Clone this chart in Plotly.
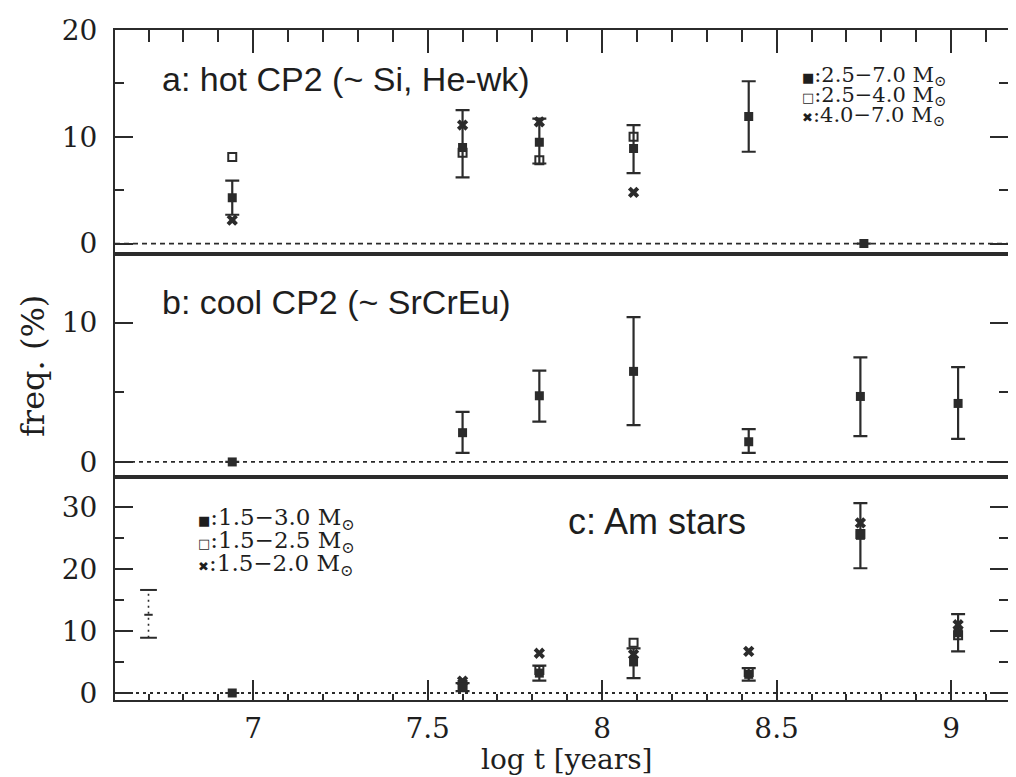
import numpy as np
import plotly.graph_objects as go
from plotly.subplots import make_subplots

# ---------------- data ----------------
# Panel a: hot CP2 (~ Si, He-wk)
age_a = [6.94, 7.60, 7.82, 8.09, 8.42, 8.75]
hot_all = [4.3, 9.0, 9.5, 8.9, 11.9, 0.0]          # 2.5-7.0 Msun
hot_all_hi = [5.9, 12.5, 11.7, 11.1, 15.2, 0.0]
hot_all_lo = [2.7, 6.2, 7.5, 6.6, 8.6, 0.0]
hot_low = [8.1, 8.5, 7.8, 10.0, None, None]         # 2.5-4.0 Msun
hot_high = [2.2, 11.1, 11.4, 4.8, None, None]       # 4.0-7.0 Msun

# Panel b: cool CP2 (~ SrCrEu)
age_b = [6.94, 7.60, 7.82, 8.09, 8.42, 8.74, 9.02]
cool = [0.0, 2.1, 4.75, 6.5, 1.45, 4.7, 4.2]
cool_hi = [0.0, 3.6, 6.55, 10.4, 2.35, 7.5, 6.8]
cool_lo = [0.0, 0.65, 2.9, 2.65, 0.65, 1.85, 1.65]

# Panel c: Am stars
age_c = [6.94, 7.60, 7.82, 8.09, 8.42, 8.74, 9.02]
am_all = [0.0, 0.9, 3.2, 5.0, 3.0, 25.4, 9.7]       # 1.5-3.0 Msun
am_all_hi = [0.0, 1.6, 4.4, 7.2, 4.0, 30.6, 12.7]
am_all_lo = [0.0, 0.3, 2.0, 2.4, 2.0, 20.1, 6.7]
am_mid = [None, 1.3, 3.7, 8.1, 3.4, 25.6, 9.3]      # 1.5-2.5 Msun
am_low = [None, 1.9, 6.4, 6.2, 6.7, 27.4, 11.0]     # 1.5-2.0 Msun
am_ref_age = [6.70]
am_ref = [12.6]
am_ref_hi = [16.6]
am_ref_lo = [8.9]

x_ticks = [7, 7.5, 8, 8.5, 9]
panel_titles = ["a: hot CP2 (~ Si, He-wk)", "b: cool CP2 (~ SrCrEu)", "c: Am stars"]
legend_a = ["2.5\u22127.0", "2.5\u22124.0", "4.0\u22127.0"]
legend_c = ["1.5\u22123.0", "1.5\u22122.5", "1.5\u22122.0"]

# ---------------- style ----------------
INK = "#2b2b2b"
TXT = "#1e1e1e"
SERIF = "DejaVu Serif"
SANS = "Liberation Sans"

OFF = 8                      # page body margin
W, H = 1000, 769
L, R, T, B = 107, 0, 22, 77
PW, PH = W - L - R, H - T - B


def px_x(px):               # page pixel -> paper x
    return (px - OFF - L) / PW


def px_y(py):               # page pixel -> paper y
    return (H - B - (py - OFF)) / PH


fig = make_subplots(rows=3, cols=1, shared_xaxes=False, vertical_spacing=0)


def err(vals, hi, lo):
    v = np.array(vals, float)
    return dict(type="data", symmetric=False,
                array=np.array(hi, float) - v, arrayminus=v - np.array(lo, float),
                width=7, thickness=2.2, color=INK)


sq = dict(symbol="square", size=9, color=INK)
sq_open = dict(symbol="square-open", size=8, color=INK, line=dict(width=2, color=INK))
xm = dict(symbol="x", size=10, color=INK, line=dict(width=0))

# panel a
fig.add_trace(go.Scatter(x=age_a, y=hot_low, mode="markers", marker=sq_open, showlegend=False), 1, 1)
fig.add_trace(go.Scatter(x=age_a, y=hot_high, mode="markers", marker=xm, showlegend=False), 1, 1)
fig.add_trace(go.Scatter(x=age_a, y=hot_all, mode="markers", marker=sq,
                         error_y=err(hot_all, hot_all_hi, hot_all_lo), showlegend=False), 1, 1)
# panel b
fig.add_trace(go.Scatter(x=age_b, y=cool, mode="markers", marker=sq,
                         error_y=err(cool, cool_hi, cool_lo), showlegend=False), 2, 1)
# panel c
fig.add_trace(go.Scatter(x=age_c, y=am_mid, mode="markers", marker=sq_open, showlegend=False), 3, 1)
fig.add_trace(go.Scatter(x=age_c, y=am_low, mode="markers", marker=xm, showlegend=False), 3, 1)
fig.add_trace(go.Scatter(x=age_c, y=am_all, mode="markers", marker=sq,
                         error_y=err(am_all, am_all_hi, am_all_lo), showlegend=False), 3, 1)
# dotted reference bar in panel c
fig.add_trace(go.Scatter(x=am_ref_age * 2, y=[am_ref_lo[0], am_ref_hi[0]], mode="lines+markers",
                         line=dict(color=INK, width=1.6, dash="2px,4px"),
                         marker=dict(symbol="line-ew-open", size=12, color=INK,
                                     line=dict(width=2, color=INK)),
                         showlegend=False), 3, 1)
fig.add_trace(go.Scatter(x=am_ref_age, y=am_ref, mode="markers",
                         marker=dict(symbol="line-ew-open", size=6, color=INK,
                                     line=dict(width=2, color=INK)),
                         showlegend=False), 3, 1)

# invisible traces to carry the right-hand tick axes
for xa, ya, xs, ys in [("x", "y4", age_a, hot_all), ("x2", "y5", age_b, cool), ("x3", "y6", age_c, am_all)]:
    fig.add_trace(go.Scatter(x=xs, y=ys, mode="none", xaxis=xa, yaxis=ya,
                             showlegend=False, hoverinfo="skip"))

# zero reference lines
for row, dash in [(1, "5px,4px"), (2, "4px,4px"), (3, "3px,4px")]:
    fig.add_hline(y=0, row=row, col=1, line=dict(color=INK, width=1.8, dash=dash), layer="below")

# ---------------- axes ----------------
xr = [6.604, 9.163]
domains = [[px_y(253.5), 1.0], [px_y(477), px_y(253.5)], [0.0, px_y(477)]]
yranges = [[-0.93, 20.001], [-1.08, 14.96], [-1.13, 34.8]]

common_x = dict(range=xr, showline=True, linewidth=2.2, linecolor=INK, mirror=True,
                showgrid=False, zeroline=False, tickcolor=INK, tickwidth=2,
                tick0=7, dtick=0.5)
fig.update_xaxes(**common_x, ticks="inside", side="top", ticklen=23, showticklabels=False,
                 minor=dict(ticks="inside", dtick=0.1, tick0=7, ticklen=12, tickwidth=2, tickcolor=INK),
                 row=1, col=1)
fig.update_xaxes(**common_x, ticks="", showticklabels=False, row=2, col=1)
fig.update_xaxes(**common_x, ticks="inside", side="bottom", ticklen=20, showticklabels=True,
                 tickvals=x_ticks, ticktext=[f"{v:g}" for v in x_ticks],
                 tickfont=dict(family=SERIF, size=28, color=TXT), ticklabelstandoff=2,
                 minor=dict(ticks="inside", dtick=0.1, tick0=7, ticklen=6, tickwidth=2, tickcolor=INK),
                 row=3, col=1)

ytick_common = dict(showgrid=False, zeroline=False, ticks="inside", ticklen=18, tickwidth=2,
                    tickcolor=INK, tick0=0, dtick=10,
                    minor=dict(ticks="inside", dtick=5, tick0=0, ticklen=9, tickwidth=2, tickcolor=INK))
for i in range(3):
    fig.update_yaxes(domain=domains[i], range=yranges[i], showline=True, linewidth=2.2,
                     linecolor=INK, mirror=False, ticklabelstandoff=10,
                     tickfont=dict(family=SERIF, size=28, color=TXT), **ytick_common,
                     row=i + 1, col=1)

right_axes = {}
for i, (name, over, anch) in enumerate([("yaxis4", "y", "x"), ("yaxis5", "y2", "x2"), ("yaxis6", "y3", "x3")]):
    right_axes[name] = dict(overlaying=over, anchor=anch, side="right", range=yranges[i],
                            showline=False, showticklabels=False, **ytick_common)

# ---------------- text ----------------
ann = []
ann.append(dict(text=panel_titles[0], x=px_x(160), y=px_y(79), xanchor="left", yanchor="middle",
                font=dict(family=SANS, size=34, color=TXT)))
ann.append(dict(text=panel_titles[1], x=px_x(160), y=px_y(302), xanchor="left", yanchor="middle",
                font=dict(family=SANS, size=34, color=TXT)))
ann.append(dict(text=panel_titles[2], x=px_x(566), y=px_y(521), xanchor="left", yanchor="middle",
                font=dict(family=SANS, size=36, color=TXT)))

syms = ["<span style='font-size:13px'>\u25a0</span>",
        "<span style='font-size:13px'>\u25a1</span>",
        "<span style='font-size:13px'>\u2716</span>"]
for k, (lab, yy) in enumerate(zip(legend_a, [76, 96, 116])):
    ann.append(dict(text=f"{syms[k]}:{lab} M<sub>\u2299</sub>", x=px_x(800), y=px_y(yy),
                    xanchor="left", yanchor="middle", font=dict(family=SERIF, size=21, color=TXT)))
for k, (lab, yy) in enumerate(zip(legend_c, [519, 542, 565])):
    ann.append(dict(text=f"{syms[k]}:{lab} M<sub>\u2299</sub>", x=px_x(196), y=px_y(yy),
                    xanchor="left", yanchor="middle", font=dict(family=SERIF, size=23, color=TXT)))

ann.append(dict(text="freq. (%)", x=px_x(33), y=px_y(366), textangle=-90,
                xanchor="center", yanchor="middle", font=dict(family=SERIF, size=32, color=TXT)))
ann.append(dict(text="log t [years]", x=px_x(566), y=px_y(759),
                xanchor="center", yanchor="middle", font=dict(family=SERIF, size=28, color=TXT)))

for a in ann:
    a.update(xref="paper", yref="paper", showarrow=False)

fig.update_layout(width=W, height=H, margin=dict(l=L, r=R, t=T, b=B),
                  paper_bgcolor="white", plot_bgcolor="white", annotations=ann,
                  showlegend=False, **right_axes)

fig.write_html("out.html")
